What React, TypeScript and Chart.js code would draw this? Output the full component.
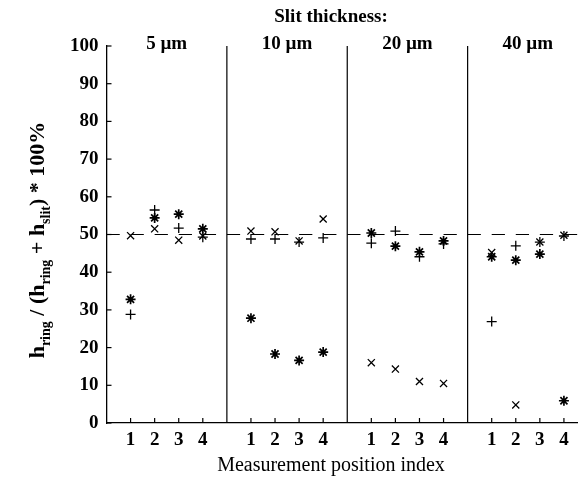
import React, { useEffect, useRef } from "react";
import { Chart, registerables } from "chart.js";
Chart.register(...registerables);

const panelLabels = ["5 µm", "10 µm", "20 µm", "40 µm"];
const positions = [1, 2, 3, 4];
const positionLabels = ["1", "2", "3", "4"];
// values per panel (5, 10, 20, 40 µm), positions 1..4
const plusValues = [28.8, 56.5, 51.7, 49.3, 48.8, 48.8, 48.0, 49.1, 47.7, 50.9, 44.1, 47.5, 26.9, 47.0, 48.0, 49.6];
const crossValues = [49.7, 51.5, 48.5, 49.6, 50.9, 50.7, 48.3, 54.1, 16.0, 14.3, 11.0, 10.5, 45.2, 4.8, 48.0, 49.8];
const starValues = [32.8, 54.4, 55.4, 51.5, 27.8, 18.3, 16.6, 18.8, 50.4, 46.9, 45.4, 48.3, 44.1, 43.2, 44.8, 5.9];
const yTickValues = [0, 10, 20, 30, 40, 50, 60, 70, 80, 90, 100];
const referenceLevel = 50;
const panelSpan = 5;

const SERIF = "'Liberation Serif', 'Times New Roman', serif";

function toPoints(values: number[]) {
  const pts: { x: number; y: number }[] = [];
  panelLabels.forEach((_, p) => {
    positions.forEach((pos, i) => {
      pts.push({ x: p * panelSpan + pos, y: values[p * positions.length + i] });
    });
  });
  return pts;
}

const overlay = {
  id: "overlay",
  beforeDatasetsDraw(chart: any) {
    const { ctx, scales } = chart;
    const x = scales.x, y = scales.y;
    const unit = x.getPixelForValue(1) - x.getPixelForValue(0);
    const yy = y.getPixelForValue(referenceLevel);
    ctx.save();
    ctx.strokeStyle = "#000";
    ctx.lineWidth = 1.2;
    ctx.setLineDash([unit * 0.55, unit * 0.45]);
    ctx.beginPath();
    ctx.moveTo(x.getPixelForValue(0), yy);
    ctx.lineTo(x.getPixelForValue(panelLabels.length * panelSpan), yy);
    ctx.stroke();
    ctx.restore();
  },
  afterDraw(chart: any) {
    const { ctx, scales } = chart;
    const x = scales.x, y = scales.y;
    const left = x.getPixelForValue(0);
    const bottom = y.getPixelForValue(0);
    const top = y.getPixelForValue(100);
    ctx.save();
    ctx.strokeStyle = "#000";
    ctx.lineWidth = 1.2;
    // dividers
    for (let p = 1; p < panelLabels.length; p++) {
      const px = x.getPixelForValue(p * panelSpan);
      ctx.beginPath();
      ctx.moveTo(px, bottom);
      ctx.lineTo(px, top);
      ctx.stroke();
    }
    // y ticks inward
    yTickValues.forEach((v) => {
      const py = y.getPixelForValue(v);
      ctx.beginPath();
      ctx.moveTo(left, py);
      ctx.lineTo(left + 5, py);
      ctx.stroke();
    });
    // x ticks inward
    panelLabels.forEach((_, p) => {
      positions.forEach((pos) => {
        const px = x.getPixelForValue(p * panelSpan + pos);
        ctx.beginPath();
        ctx.moveTo(px, bottom);
        ctx.lineTo(px, bottom - 5);
        ctx.stroke();
      });
    });
    ctx.fillStyle = "#000";
    ctx.textBaseline = "middle";
    ctx.textAlign = "center";
    ctx.font = `bold 19px ${SERIF}`;
    panelLabels.forEach((lab, p) => {
      const px = x.getPixelForValue(p * panelSpan + panelSpan / 2);
      ctx.fillText(lab, px, 44);
    });
    ctx.fillText("Slit thickness:", 331, 17);
    ctx.font = `20px ${SERIF}`;
    ctx.fillText("Measurement position index", 331, 466);

    // y title with subscripts
    const parts: [string, boolean][] = [
      ["h", false], ["ring", true], [" / (h", false], ["ring", true], [" + h", false], ["slit", true], [") * 100%", false],
    ];
    const mainFont = `bold 22px ${SERIF}`;
    const subFont = `bold 14px ${SERIF}`;
    let total = 0;
    parts.forEach(([t, sub]) => {
      ctx.font = sub ? subFont : mainFont;
      total += ctx.measureText(t).width;
    });
    ctx.translate(44, 240);
    ctx.rotate(-Math.PI / 2);
    ctx.textAlign = "left";
    ctx.textBaseline = "alphabetic";
    let cx = -total / 2;
    parts.forEach(([t, sub]) => {
      ctx.font = sub ? subFont : mainFont;
      ctx.fillText(t, cx, sub ? 6 : 0);
      cx += ctx.measureText(t).width;
    });
    ctx.restore();
  },
};

export default function App() {
  const ref = useRef<HTMLCanvasElement | null>(null);
  useEffect(() => {
    if (!ref.current) return;
    const chart = new Chart(ref.current, {
      type: "scatter",
      data: {
        datasets: [
          {
            label: "plus",
            data: toPoints(plusValues),
            pointStyle: "cross",
            pointRadius: 5,
            borderColor: "#000",
            backgroundColor: "#000",
            borderWidth: 1.3,
          },
          {
            label: "cross",
            data: toPoints(crossValues),
            pointStyle: "crossRot",
            pointRadius: 5,
            borderColor: "#000",
            backgroundColor: "#000",
            borderWidth: 1.3,
          },
          {
            label: "star",
            data: toPoints(starValues),
            pointStyle: "star",
            pointRadius: 5,
            borderColor: "#000",
            backgroundColor: "#000",
            borderWidth: 1.7,
          },
        ],
      },
      options: {
        responsive: false,
        animation: false,
        events: [],
        layout: { padding: { top: 46, right: 12, left: 0, bottom: 0 } },
        plugins: { legend: { display: false }, tooltip: { enabled: false }, title: { display: false } },
        scales: {
          x: {
            type: "linear",
            min: 0,
            max: panelLabels.length * panelSpan,
            afterBuildTicks: (s: any) => {
              const t: any[] = [];
              panelLabels.forEach((_, p) => positions.forEach((pos) => t.push({ value: p * panelSpan + pos })));
              s.ticks = t;
            },
            afterFit: (s: any) => {
              s.height = 58;
            },
            ticks: {
              autoSkip: false,
              maxRotation: 0,
              padding: 6,
              color: "#000",
              font: { family: SERIF, size: 19, weight: "bold" },
              callback: (v: any) => positionLabels[(Math.round(v) % panelSpan) - 1],
            },
            grid: { display: false, drawTicks: false },
            border: { display: true, color: "#000", width: 1.3 },
          },
          y: {
            type: "linear",
            min: 0,
            max: 100,
            afterBuildTicks: (s: any) => {
              s.ticks = yTickValues.map((v) => ({ value: v }));
            },
            afterFit: (s: any) => {
              s.width = 106.5;
            },
            ticks: {
              padding: 8,
              color: "#000",
              font: { family: SERIF, size: 19, weight: "bold" },
            },
            grid: { display: false, drawTicks: false },
            border: { display: true, color: "#000", width: 1.3 },
          },
        },
      },
      plugins: [overlay],
    } as any);
    return () => chart.destroy();
  }, []);
  return (
    <div style={{ position: "fixed", left: 0, top: 0, width: 578, height: 481, overflow: "hidden", background: "#fff" }}>
      <canvas ref={ref} width={600} height={481} style={{ display: "block" }} />
    </div>
  );
}
